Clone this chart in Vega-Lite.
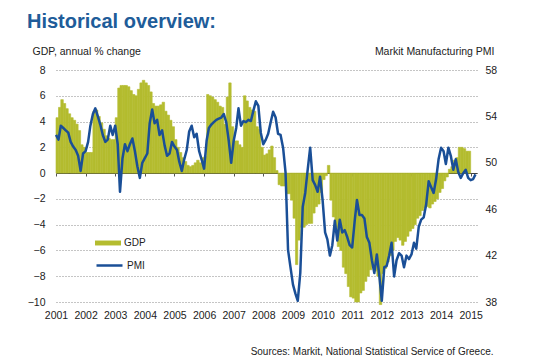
{
"$schema": "https://vega.github.io/schema/vega-lite/v6.json",
"autosize": {"type": "none"},
"width": 421, "height": 232,
"padding": {"left": 56, "top": 70, "right": 63, "bottom": 54},
"background": "white",
"config": {"font": "Liberation Sans", "view": {"stroke": null}},
"title": {"text": "Historical overview:", "anchor": "start", "frame": "group", "dx": -29, "offset": -1, "fontSize": 20, "fontWeight": "bold", "color": "#205C99", "baseline": "alphabetic"},
"data": {"values": [
{"d":"2001-01-01","gdp":4.3,"pmi":52.4},{"d":"2001-02-01","gdp":5.1,"pmi":52.0},{"d":"2001-03-01","gdp":5.7,"pmi":53.2},{"d":"2001-04-01","gdp":5.4,"pmi":53.0},{"d":"2001-05-01","gdp":5.0,"pmi":52.8},{"d":"2001-06-01","gdp":4.6,"pmi":52.6},{"d":"2001-07-01","gdp":4.3,"pmi":51.8},{"d":"2001-08-01","gdp":4.1,"pmi":51.4},{"d":"2001-09-01","gdp":3.8,"pmi":51.1},{"d":"2001-10-01","gdp":3.3,"pmi":50.6},{"d":"2001-11-01","gdp":2.2,"pmi":49.3},{"d":"2001-12-01","gdp":2.0,"pmi":50.8},
{"d":"2002-01-01","gdp":1.6,"pmi":51.0},{"d":"2002-02-01","gdp":1.6,"pmi":51.8},{"d":"2002-03-01","gdp":1.6,"pmi":53.2},{"d":"2002-04-01","gdp":4.8,"pmi":54.2},{"d":"2002-05-01","gdp":4.9,"pmi":54.7},{"d":"2002-06-01","gdp":4.4,"pmi":54.0},{"d":"2002-07-01","gdp":3.9,"pmi":53.3},{"d":"2002-08-01","gdp":3.4,"pmi":52.4},{"d":"2002-09-01","gdp":2.9,"pmi":51.8},{"d":"2002-10-01","gdp":2.7,"pmi":52.0},{"d":"2002-11-01","gdp":2.6,"pmi":53.2},{"d":"2002-12-01","gdp":2.6,"pmi":52.4},
{"d":"2003-01-01","gdp":4.3,"pmi":53.2},{"d":"2003-02-01","gdp":6.6,"pmi":51.6},{"d":"2003-03-01","gdp":6.8,"pmi":47.5},{"d":"2003-04-01","gdp":6.8,"pmi":50.4},{"d":"2003-05-01","gdp":6.8,"pmi":51.6},{"d":"2003-06-01","gdp":6.7,"pmi":51.0},{"d":"2003-07-01","gdp":6.4,"pmi":51.6},{"d":"2003-08-01","gdp":6.1,"pmi":52.1},{"d":"2003-09-01","gdp":6.0,"pmi":51.0},{"d":"2003-10-01","gdp":6.5,"pmi":49.7},{"d":"2003-11-01","gdp":7.0,"pmi":48.7},{"d":"2003-12-01","gdp":7.2,"pmi":50.0},
{"d":"2004-01-01","gdp":7.0,"pmi":50.4},{"d":"2004-02-01","gdp":6.8,"pmi":50.8},{"d":"2004-03-01","gdp":6.3,"pmi":53.4},{"d":"2004-04-01","gdp":5.4,"pmi":54.6},{"d":"2004-05-01","gdp":5.2,"pmi":53.4},{"d":"2004-06-01","gdp":5.2,"pmi":53.7},{"d":"2004-07-01","gdp":5.3,"pmi":52.4},{"d":"2004-08-01","gdp":5.5,"pmi":52.8},{"d":"2004-09-01","gdp":4.8,"pmi":51.5},{"d":"2004-10-01","gdp":4.5,"pmi":50.6},{"d":"2004-11-01","gdp":4.1,"pmi":50.8},{"d":"2004-12-01","gdp":3.6,"pmi":51.8},
{"d":"2005-01-01","gdp":2.6,"pmi":51.4},{"d":"2005-02-01","gdp":2.0,"pmi":51.1},{"d":"2005-03-01","gdp":1.6,"pmi":50.1},{"d":"2005-04-01","gdp":1.2,"pmi":49.3},{"d":"2005-05-01","gdp":0.9,"pmi":50.3},{"d":"2005-06-01","gdp":0.6,"pmi":51.1},{"d":"2005-07-01","gdp":0.5,"pmi":52.7},{"d":"2005-08-01","gdp":0.6,"pmi":53.2},{"d":"2005-09-01","gdp":0.8,"pmi":52.2},{"d":"2005-10-01","gdp":1.0,"pmi":52.5},{"d":"2005-11-01","gdp":0.8,"pmi":51.0},{"d":"2005-12-01","gdp":1.2,"pmi":50.3},
{"d":"2006-01-01","gdp":1.3,"pmi":49.5},{"d":"2006-02-01","gdp":6.1,"pmi":51.9},{"d":"2006-03-01","gdp":6.0,"pmi":53.0},{"d":"2006-04-01","gdp":5.9,"pmi":53.3},{"d":"2006-05-01","gdp":5.7,"pmi":53.5},{"d":"2006-06-01","gdp":5.5,"pmi":53.7},{"d":"2006-07-01","gdp":5.2,"pmi":53.8},{"d":"2006-08-01","gdp":5.1,"pmi":53.9},{"d":"2006-09-01","gdp":3.8,"pmi":54.2},{"d":"2006-10-01","gdp":5.9,"pmi":53.5},{"d":"2006-11-01","gdp":7.0,"pmi":51.9},{"d":"2006-12-01","gdp":3.6,"pmi":50.0},
{"d":"2007-01-01","gdp":2.5,"pmi":51.9},{"d":"2007-02-01","gdp":2.5,"pmi":53.0},{"d":"2007-03-01","gdp":2.2,"pmi":54.7},{"d":"2007-04-01","gdp":2.0,"pmi":53.2},{"d":"2007-05-01","gdp":6.0,"pmi":53.6},{"d":"2007-06-01","gdp":5.6,"pmi":53.5},{"d":"2007-07-01","gdp":5.1,"pmi":53.7},{"d":"2007-08-01","gdp":4.9,"pmi":53.6},{"d":"2007-09-01","gdp":4.8,"pmi":54.5},{"d":"2007-10-01","gdp":3.6,"pmi":55.3},{"d":"2007-11-01","gdp":3.4,"pmi":54.9},{"d":"2007-12-01","gdp":2.0,"pmi":52.6},
{"d":"2008-01-01","gdp":1.4,"pmi":51.6},{"d":"2008-02-01","gdp":1.5,"pmi":52.0},{"d":"2008-03-01","gdp":1.8,"pmi":52.5},{"d":"2008-04-01","gdp":2.1,"pmi":53.5},{"d":"2008-05-01","gdp":1.2,"pmi":54.4},{"d":"2008-06-01","gdp":0.2,"pmi":53.9},{"d":"2008-07-01","gdp":-0.9,"pmi":52.5},{"d":"2008-08-01","gdp":-1.0,"pmi":52.4},{"d":"2008-09-01","gdp":-1.0,"pmi":51.3},{"d":"2008-10-01","gdp":-1.6,"pmi":49.2},{"d":"2008-11-01","gdp":-1.6,"pmi":42.5},{"d":"2008-12-01","gdp":-2.1,"pmi":41.0},
{"d":"2009-01-01","gdp":-3.5,"pmi":39.5},{"d":"2009-02-01","gdp":-7.1,"pmi":38.7},{"d":"2009-03-01","gdp":-5.2,"pmi":38.1},{"d":"2009-04-01","gdp":-4.2,"pmi":40.5},{"d":"2009-05-01","gdp":-4.2,"pmi":46.2},{"d":"2009-06-01","gdp":-4.0,"pmi":47.4},{"d":"2009-07-01","gdp":-3.9,"pmi":49.4},{"d":"2009-08-01","gdp":-3.9,"pmi":51.3},{"d":"2009-09-01","gdp":-3.1,"pmi":48.5},{"d":"2009-10-01","gdp":-2.6,"pmi":48.1},{"d":"2009-11-01","gdp":-2.4,"pmi":47.5},{"d":"2009-12-01","gdp":-1.5,"pmi":48.8},
{"d":"2010-01-01","gdp":-0.5,"pmi":46.8},{"d":"2010-02-01","gdp":-0.2,"pmi":44.0},{"d":"2010-03-01","gdp":0.6,"pmi":43.4},{"d":"2010-04-01","gdp":-2.1,"pmi":42.0},{"d":"2010-05-01","gdp":-3.4,"pmi":42.9},{"d":"2010-06-01","gdp":-4.2,"pmi":45.0},{"d":"2010-07-01","gdp":-5.7,"pmi":43.3},{"d":"2010-08-01","gdp":-6.0,"pmi":45.1},{"d":"2010-09-01","gdp":-7.3,"pmi":44.0},{"d":"2010-10-01","gdp":-7.8,"pmi":44.2},{"d":"2010-11-01","gdp":-8.8,"pmi":43.6},{"d":"2010-12-01","gdp":-9.6,"pmi":42.9},
{"d":"2011-01-01","gdp":-9.7,"pmi":42.7},{"d":"2011-02-01","gdp":-10.0,"pmi":45.0},{"d":"2011-03-01","gdp":-10.0,"pmi":46.8},{"d":"2011-04-01","gdp":-9.3,"pmi":45.5},{"d":"2011-05-01","gdp":-9.1,"pmi":45.5},{"d":"2011-06-01","gdp":-8.4,"pmi":45.2},{"d":"2011-07-01","gdp":-8.0,"pmi":43.6},{"d":"2011-08-01","gdp":-7.5,"pmi":43.1},{"d":"2011-09-01","gdp":-7.3,"pmi":41.6},{"d":"2011-10-01","gdp":-7.6,"pmi":40.5},{"d":"2011-11-01","gdp":-8.0,"pmi":42.1},{"d":"2011-12-01","gdp":-10.2,"pmi":40.3},
{"d":"2012-01-01","gdp":-7.8,"pmi":38.1},{"d":"2012-02-01","gdp":-7.4,"pmi":41.0},{"d":"2012-03-01","gdp":-6.9,"pmi":41.1},{"d":"2012-04-01","gdp":-6.4,"pmi":42.0},{"d":"2012-05-01","gdp":-6.0,"pmi":43.1},{"d":"2012-06-01","gdp":-5.3,"pmi":40.2},{"d":"2012-07-01","gdp":-5.0,"pmi":41.6},{"d":"2012-08-01","gdp":-5.2,"pmi":42.2},{"d":"2012-09-01","gdp":-5.6,"pmi":42.0},{"d":"2012-10-01","gdp":-5.3,"pmi":41.0},{"d":"2012-11-01","gdp":-4.9,"pmi":42.0},{"d":"2012-12-01","gdp":-4.5,"pmi":41.7},
{"d":"2013-01-01","gdp":-4.3,"pmi":42.1},{"d":"2013-02-01","gdp":-4.0,"pmi":43.1},{"d":"2013-03-01","gdp":-3.5,"pmi":42.6},{"d":"2013-04-01","gdp":-3.3,"pmi":44.5},{"d":"2013-05-01","gdp":-2.9,"pmi":45.1},{"d":"2013-06-01","gdp":-2.7,"pmi":45.3},{"d":"2013-07-01","gdp":-2.6,"pmi":46.4},{"d":"2013-08-01","gdp":-2.7,"pmi":48.4},{"d":"2013-09-01","gdp":-2.4,"pmi":47.9},{"d":"2013-10-01","gdp":-2.2,"pmi":47.4},{"d":"2013-11-01","gdp":-2.0,"pmi":48.6},{"d":"2013-12-01","gdp":-1.5,"pmi":50.3},
{"d":"2014-01-01","gdp":-1.2,"pmi":51.3},{"d":"2014-02-01","gdp":-0.6,"pmi":51.0},{"d":"2014-03-01","gdp":-0.3,"pmi":49.9},{"d":"2014-04-01","gdp":0.3,"pmi":51.3},{"d":"2014-05-01","gdp":0.5,"pmi":50.6},{"d":"2014-06-01","gdp":1.0,"pmi":49.4},{"d":"2014-07-01","gdp":1.2,"pmi":50.3},{"d":"2014-08-01","gdp":2.0,"pmi":49.2},{"d":"2014-09-01","gdp":2.0,"pmi":48.7},{"d":"2014-10-01","gdp":1.9,"pmi":49.1},{"d":"2014-11-01","gdp":1.7,"pmi":49.4},{"d":"2014-12-01","gdp":1.7,"pmi":48.7},
{"d":"2015-01-01","gdp":null,"pmi":48.5},{"d":"2015-02-01","gdp":null,"pmi":48.6},{"d":"2015-03-01","gdp":null,"pmi":49.0}
]},
"layer": [
{"transform": [{"filter": "datum.gdp != null"}, {"timeUnit": "utcyearmonth", "field": "d", "as": "ms"}],
 "mark": {"type": "bar", "stroke": "#B4BC2F", "strokeWidth": 0.6},
 "encoding": {
  "x": {"field": "ms", "type": "temporal",
        "scale": {"type": "utc", "domain": [{"year": 2001, "month": 1, "date": 1, "utc": true}, {"year": 2015, "month": 3, "date": 20, "utc": true}]},
        "axis": {"orient": "bottom", "format": "%Y", "tickCount": {"interval": "year", "step": 1}, "grid": false, "domain": false, "ticks": false, "tickSize": 0, "labelPadding": 8, "labelFontSize": 10.5, "labelColor": "#222222", "labelFlush": false, "labelOverlap": false,
                 "title": "Sources: Markit, National Statistical Service of Greece.", "titleAnchor": "end", "titleAlign": "right", "titleX": 437, "titleY": 52, "titleBaseline": "alphabetic", "titleFontSize": 10, "titleFontWeight": "normal", "titleColor": "#222222"}},
  "x2": {"field": "ms_end"},
  "y": {"field": "gdp", "type": "quantitative", "scale": {"domain": [-10, 8], "nice": false, "zero": false},
        "axis": {"values": [-10, -8, -6, -4, -2, 0, 2, 4, 6, 8], "grid": true,
                 "gridColor": {"condition": {"test": "datum.value === 0", "value": "#000000"}, "value": "#8a8a8a"},
                 "gridDash": {"condition": {"test": "datum.value === 0", "value": [1, 0]}, "value": [1, 2]},
                 "domain": false, "ticks": false, "tickSize": 0, "labelPadding": 11, "labelFontSize": 10.5, "labelColor": "#222222",
                 "title": "GDP, annual % change", "titleAngle": 0, "titleAlign": "left", "titleBaseline": "alphabetic", "titleX": -24, "titleY": -15.5, "titleFontSize": 10.5, "titleFontWeight": "normal", "titleColor": "#222222"}},
  "y2": {"datum": 0},
  "fill": {"datum": "GDP", "scale": {"range": ["#B4BC2F"]},
           "legend": {"orient": "none", "legendX": 39, "legendY": 160, "title": null, "symbolType": "M-1,-0.19H1V0.19H-1Z", "symbolSize": 676, "symbolStrokeWidth": 0, "labelFontSize": 10, "labelOffset": 3, "labelColor": "#222222", "padding": 0}}
 }},
{"mark": {"type": "line", "strokeWidth": 2.5, "strokeJoin": "round"},
 "encoding": {
  "x": {"field": "d", "type": "temporal",
        "axis": {"orient": "bottom", "offset": -129, "tickCount": {"interval": "year", "step": 1}, "labels": false, "domain": false, "grid": false, "ticks": true, "tickSize": 3, "tickColor": "#555555", "title": null}},
  "y": {"field": "pmi", "type": "quantitative", "scale": {"domain": [38, 58], "nice": false},
        "axis": {"orient": "right", "values": [38, 42, 46, 50, 54, 58], "grid": false, "domain": false, "ticks": false, "tickSize": 0, "labelPadding": 8, "labelFontSize": 10.5, "labelColor": "#222222",
                 "title": "Markit Manufacturing PMI", "titleAngle": 0, "titleAlign": "right", "titleBaseline": "alphabetic", "titleX": 17, "titleY": -15.5, "titleFontSize": 10.5, "titleFontWeight": "normal", "titleColor": "#222222"}},
  "stroke": {"datum": "PMI", "scale": {"range": ["#1A4F97"]},
             "legend": {"orient": "none", "legendX": 39, "legendY": 181, "title": null, "symbolType": "stroke", "symbolSize": 676, "symbolStrokeWidth": 2.5, "labelFontSize": 10, "labelOffset": 3, "labelColor": "#222222", "padding": 0}}
 }}
],
"resolve": {"scale": {"y": "independent"}, "axis": {"x": "independent"}}
}
